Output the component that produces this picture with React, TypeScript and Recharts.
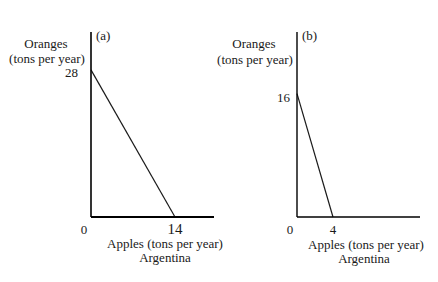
import { Line, LineChart, XAxis, YAxis } from "recharts";

// production possibility frontiers, Argentina
const panelA = [
  { apples: 0, oranges: 28 },
  { apples: 14, oranges: 0 },
];
const panelB = [
  { apples: 0, oranges: 16 },
  { apples: 4, oranges: 0 },
];
const ticksAX = [0, 14];
const ticksAY = [28];
const ticksBX = [0, 4];
const ticksBY = [16];

const FONT = "Liberation Serif, Times New Roman, serif";
const INK = "#1a1a1a";

const XTick = ({ x, y, payload, big }: any) => {
  const isZero = payload.value === 0;
  return (
    <text
      x={isZero ? x - 7 : x}
      y={y + 15}
      textAnchor="middle"
      style={{ fontFamily: FONT, fontSize: !isZero && big ? 15 : 13 }}
      fill={INK}
    >
      {payload.value}
    </text>
  );
};

const YTick = ({ x, y, payload, gap = 5, drop = 6 }: any) => (
  <text x={x - gap} y={y + drop} textAnchor="end" style={{ fontFamily: FONT, fontSize: 13 }} fill={INK}>
    {payload.value}
  </text>
);

const Caption = ({ x, y, children, anchor = "middle" }: any) => (
  <text x={x} y={y} textAnchor={anchor} style={{ fontFamily: FONT, fontSize: 13 }} fill={INK}>
    {children}
  </text>
);

export default function App() {
  return (
    <div style={{ position: "fixed", left: 0, top: 0, width: 438, height: 282, background: "#fff" }}>
      <div style={{ position: "absolute", left: 0, top: 0 }}>
        <LineChart width={438} height={282} data={panelA} margin={{ top: 32, right: 224, bottom: 0, left: 0 }}>
          <XAxis
            dataKey="apples"
            type="number"
            domain={[0, 20.5]}
            ticks={ticksAX}
            height={65}
            tickSize={0}
            tickLine={false}
            axisLine={{ stroke: "#000", strokeWidth: 2 }}
            tick={<XTick big />}
          />
          <YAxis
            dataKey="oranges"
            type="number"
            domain={[0, 35.2]}
            ticks={ticksAY}
            width={91}
            tickSize={0}
            tickLine={false}
            axisLine={{ stroke: "#000", strokeWidth: 1.6 }}
            tick={<YTick gap={11} drop={7} />}
          />
          <Line dataKey="oranges" stroke={INK} strokeWidth={1.2} dot={false} isAnimationActive={false} />
          <Caption x={96} y={40} anchor="start">(a)</Caption>
          <Caption x={46} y={48}>Oranges</Caption>
          <Caption x={47} y={63}>(tons per year)</Caption>
          <Caption x={165} y={248}>Apples (tons per year)</Caption>
          <Caption x={165} y={262}>Argentina</Caption>
        </LineChart>
      </div>
      <div style={{ position: "absolute", left: 0, top: 0 }}>
        <LineChart width={438} height={282} data={panelB} margin={{ top: 32, right: 18, bottom: 0, left: 0 }}>
          <XAxis
            dataKey="apples"
            type="number"
            domain={[0, 13.67]}
            ticks={ticksBX}
            height={65}
            tickSize={0}
            tickLine={false}
            axisLine={{ stroke: "#000", strokeWidth: 1.6 }}
            tick={<XTick />}
          />
          <YAxis
            dataKey="oranges"
            type="number"
            domain={[0, 24]}
            ticks={ticksBY}
            width={297}
            tickSize={0}
            tickLine={false}
            axisLine={{ stroke: "#000", strokeWidth: 1.4 }}
            tick={<YTick gap={5} drop={8} />}
          />
          <Line dataKey="oranges" stroke={INK} strokeWidth={1.2} dot={false} isAnimationActive={false} />
          <Caption x={302} y={40} anchor="start">(b)</Caption>
          <Caption x={254} y={48}>Oranges</Caption>
          <Caption x={255} y={64}>(tons per year)</Caption>
          <Caption x={366} y={249}>Apples (tons per year)</Caption>
          <Caption x={364} y={263}>Argentina</Caption>
        </LineChart>
      </div>
    </div>
  );
}
